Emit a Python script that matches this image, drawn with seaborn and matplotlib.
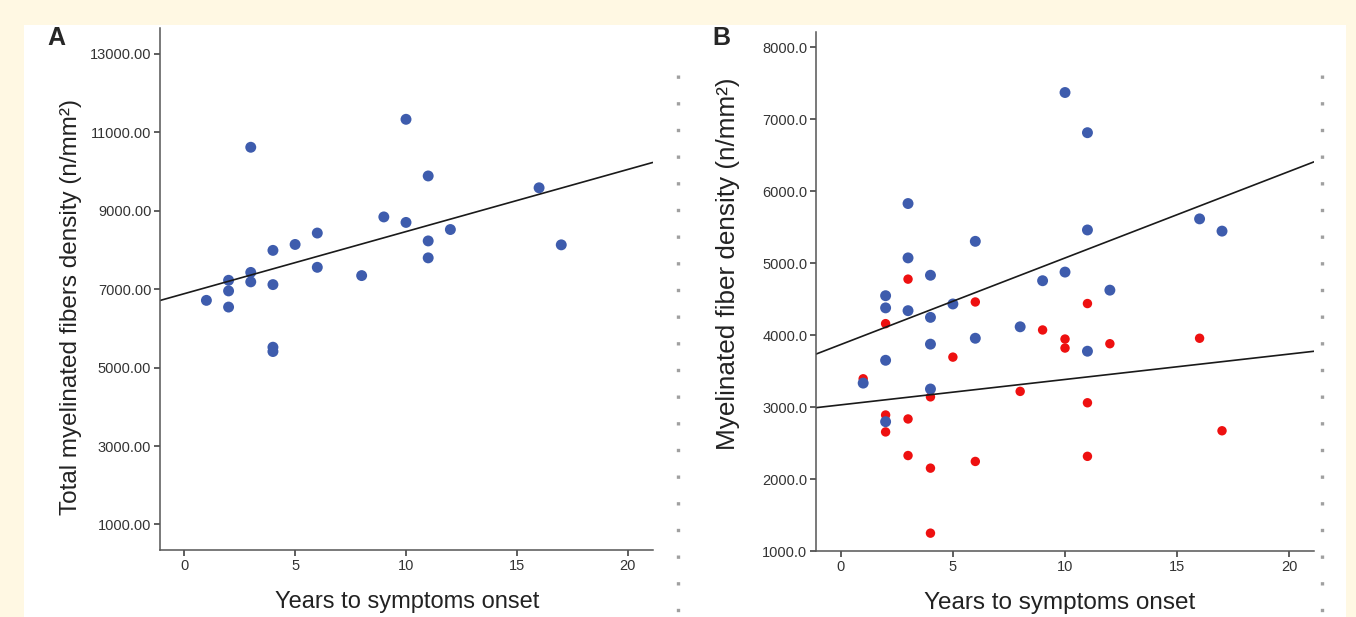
import numpy as np
import pandas as pd
import matplotlib
matplotlib.use("Agg")
import matplotlib.pyplot as plt
from matplotlib.patches import Rectangle
from matplotlib.lines import Line2D
import seaborn as sns

# Panel A: total myelinated fiber density vs years to symptoms onset
a_years = [1, 2, 2, 2, 3, 3, 3, 4, 4, 4, 4, 5, 6, 6, 8, 9, 10, 10, 11, 11, 11, 12, 16, 17]
a_density = [6715, 7227, 6956, 6544, 10620, 7428, 7187, 7990, 7117, 5520, 5410, 8141,
             8432, 7558, 7347, 8843, 11333, 8703, 9888, 8231, 7799, 8522, 9586, 8131]

# Panel B: myelinated fiber density, blue and red groups
b_blue_years = [1, 2, 2, 2, 2, 3, 3, 3, 4, 4, 4, 4, 5, 6, 6, 8, 9, 10, 10, 11, 11, 11, 12, 16, 17]
b_blue_density = [3335, 4549, 4380, 3652, 2799, 5829, 5074, 4341, 4833, 4248, 3876, 3253, 4434,
                  5304, 3958, 4117, 4757, 7371, 4877, 6813, 5462, 3778, 4626, 5616, 5446]
b_red_years = [1, 2, 2, 2, 3, 3, 3, 4, 4, 4, 5, 6, 6, 8, 9, 10, 10, 11, 11, 11, 12, 16, 17]
b_red_density = [3395, 4161, 2892, 2657, 4779, 2837, 2329, 3144, 2154, 1251, 3696, 4462, 2247,
                 3220, 4073, 3947, 3822, 4440, 3062, 2318, 3882, 3958, 2673]

x_ticks = [0, 5, 10, 15, 20]
a_y_ticks = [1000, 3000, 5000, 7000, 9000, 11000, 13000]
b_y_ticks = [1000, 2000, 3000, 4000, 5000, 6000, 7000, 8000]

df_a = pd.DataFrame({"years": a_years, "density": a_density})
df_blue = pd.DataFrame({"years": b_blue_years, "density": b_blue_density})
df_red = pd.DataFrame({"years": b_red_years, "density": b_red_density})

sns.set_style("white")
plt.rcParams["font.family"] = ["Liberation Sans", "DejaVu Sans"]

BLUE = "#3e5cad"
RED = "#ee1010"
SPINE = "#555555"
TEXT = "#333333"

fig = plt.figure(figsize=(13.56, 6.17), dpi=100, facecolor="#fff8e3")
fig.add_artist(Rectangle((24 / 1356, 0), 1322 / 1356, 592 / 617, transform=fig.transFigure,
                         facecolor="white", edgecolor="none", zorder=0))

ax_a = fig.add_axes([0.1177, 0.1079, 0.3636, 0.8473])
ax_b = fig.add_axes([0.6015, 0.1066, 0.3675, 0.8423])


def style_axis(ax):
    ax.set_facecolor("none")
    sns.despine(ax=ax)
    for side in ["left", "bottom"]:
        ax.spines[side].set_color(SPINE)
        ax.spines[side].set_linewidth(1.1)
    ax.tick_params(axis="both", direction="out", length=4.5, width=1.1, color="#333333",
                   labelsize=10.5, labelcolor=TEXT, pad=1.5)
    ax.tick_params(axis="both", which="both", bottom=True, left=True)


# Panel A
ax_a.set_xlim(-1.11, 21.12)
ax_a.set_ylim(337, 13671)
sns.regplot(data=df_a, x="years", y="density", ax=ax_a, ci=None, truncate=False,
            scatter_kws={"s": 62, "color": BLUE, "edgecolor": "none", "alpha": 1},
            line_kws={"color": "#1a1a1a", "linewidth": 1.2})
ax_a.set_xlim(-1.11, 21.12)
ax_a.set_ylim(337, 13671)
ax_a.set_xticks(x_ticks)
ax_a.set_yticks(a_y_ticks, labels=[f"{v:.2f}" for v in a_y_ticks])
style_axis(ax_a)
ax_a.set_xlabel("Years to symptoms onset", fontsize=17, color="#222222")
ax_a.set_ylabel("Total myelinated fibers density (n/mm²)", fontsize=17.5, color="#222222")
ax_a.xaxis.set_label_coords(0.502, -0.078)
ax_a.yaxis.set_label_coords(-0.158, 0.466)

# Panel B
ax_b.set_xlim(-1.12, 21.1)
ax_b.set_ylim(1000, 8218)
sns.regplot(data=df_red, x="years", y="density", ax=ax_b, ci=None, truncate=False,
            scatter_kws={"s": 46, "color": RED, "edgecolor": "none", "alpha": 1},
            line_kws={"color": "#1a1a1a", "linewidth": 1.2})
sns.regplot(data=df_blue, x="years", y="density", ax=ax_b, ci=None, truncate=False,
            scatter_kws={"s": 62, "color": BLUE, "edgecolor": "none", "alpha": 1},
            line_kws={"color": "#1a1a1a", "linewidth": 1.2})
ax_b.set_xlim(-1.12, 21.1)
ax_b.set_ylim(1000, 8218)
ax_b.set_xticks(x_ticks)
ax_b.set_yticks(b_y_ticks, labels=[f"{v:.1f}" for v in b_y_ticks])
style_axis(ax_b)
ax_b.set_xlabel("Years to symptoms onset", fontsize=17.5, color="#222222")
ax_b.set_ylabel("Myelinated fiber density (n/mm²)", fontsize=18.8, color="#222222")
ax_b.xaxis.set_label_coords(0.49, -0.078)
ax_b.yaxis.set_label_coords(-0.152, 0.553)

# panel letters
fig.text(47 / 1356, 1 - 38 / 617, "A", fontsize=18, fontweight="bold", va="center", ha="left")
fig.text(712 / 1356, 1 - 38 / 617, "B", fontsize=18, fontweight="bold", va="center", ha="left")

# dotted separators
for xpx in [678, 1322]:
    fig.add_artist(Line2D([xpx / 1356, xpx / 1356], [1 - 75 / 617, 0], transform=fig.transFigure,
                          color="#a0a0a0", linewidth=2.4, linestyle=(0, (1, 7)),
                          solid_capstyle="butt", dash_capstyle="butt"))

fig.savefig("out.png", dpi=100, facecolor=fig.get_facecolor())
